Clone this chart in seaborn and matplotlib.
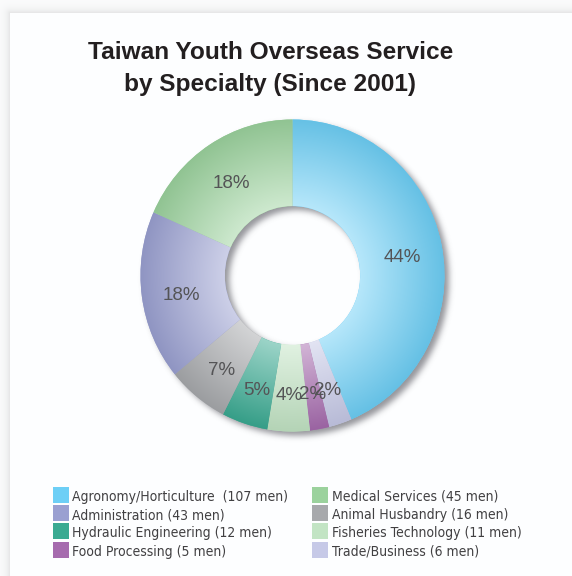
import numpy as np
import matplotlib
matplotlib.use("Agg")
import matplotlib.pyplot as plt
import seaborn as sns
from matplotlib.patches import Rectangle
from matplotlib.colors import to_rgb
from matplotlib.transforms import ScaledTranslation
from matplotlib.font_manager import FontProperties, fontManager

# ---- data (clockwise from 12 o'clock) ----
categories = [
    "Agronomy/Horticulture", "Trade/Business", "Food Processing",
    "Fisheries Technology", "Hydraulic Engineering", "Animal Husbandry",
    "Administration", "Medical Services",
]
men = [107, 6, 5, 11, 12, 16, 43, 45]
colors = ["#6dcff6", "#c6c9e7", "#a66bae", "#c2e4c4",
          "#3aaa92", "#a7a9ac", "#9aa0d1", "#9bd29d"]
legend_labels = {
    "Agronomy/Horticulture": "Agronomy/Horticulture  (107 men)",
    "Administration": "Administration (43 men)",
    "Hydraulic Engineering": "Hydraulic Engineering (12 men)",
    "Food Processing": "Food Processing (5 men)",
    "Medical Services": "Medical Services (45 men)",
    "Animal Husbandry": "Animal Husbandry (16 men)",
    "Fisheries Technology": "Fisheries Technology (11 men)",
    "Trade/Business": "Trade/Business (6 men)",
}
legend_columns = [
    ["Agronomy/Horticulture", "Administration", "Hydraulic Engineering", "Food Processing"],
    ["Medical Services", "Animal Husbandry", "Fisheries Technology", "Trade/Business"],
]
title_lines = ["Taiwan Youth Overseas Service", "by Specialty (Since 2001)"]

sns.set_theme(style="white")
plt.rcParams["font.family"] = ["Liberation Sans", "DejaVu Sans"]


def pick_narrow_font():
    """Find a condensed/narrow sans face for the legend, else fall back."""
    cands = []
    for f in fontManager.ttflist:
        nm = f.name.lower()
        fn = f.fname.lower()
        narrowish = ("narrow" in nm or "condensed" in nm or "narrow" in fn
                     or "condensed" in fn or f.stretch in ("condensed", "semi-condensed"))
        if not narrowish or f.style != "normal":
            continue
        w = f.weight if isinstance(f.weight, int) else 400
        if w > 500 or w < 300:
            continue
        rank = 0 if "liberation" in nm else (1 if "dejavu" in nm else 2)
        if "semi" in fn or "semi" in nm:
            rank += 0.5
        cands.append((rank, f.fname, "liberation" in nm))
    if cands:
        cands.sort()
        size = 11 if cands[0][2] else 10
        return FontProperties(fname=cands[0][1], size=size)
    return FontProperties(family="Liberation Sans", size=10)


legend_font = pick_narrow_font()

W, H = 572, 576
fig = plt.figure(figsize=(W / 100, H / 100), dpi=100)

# ---- page background with a soft card edge ----
bg = fig.add_axes([0, 0, 1, 1])
bg.set_axis_off()
yy, xx = np.mgrid[0:H, 0:W] + 0.5
card_x, card_y = 10, 13
dist = np.hypot(np.maximum(card_x - xx, 0), np.maximum(card_y - yy, 0))
outside = (xx < card_x) | (yy < card_y)
shade = np.where(outside, 0.99 - 0.09 * np.exp(-dist / 4.0), 1.0)
bg_img = np.dstack([shade * 0.995, shade * 0.997, shade])
bg.imshow(np.clip(bg_img, 0, 1), extent=[0, W, H, 0], aspect="auto", interpolation="bilinear")
bg.set_xlim(0, W)
bg.set_ylim(H, 0)

# title
bg.text(270.5, 59, title_lines[0], ha="center", va="baseline", fontsize=17.6,
        fontweight="bold", color="#231f20")
bg.text(270.5, 91, title_lines[1], ha="center", va="baseline", fontsize=17.6,
        fontweight="bold", color="#231f20")

# legend (two columns)
color_of = dict(zip(categories, colors))
col_x = [53, 312]
for c, col in enumerate(legend_columns):
    for r, name in enumerate(col):
        y0 = 487 + r * 18.2
        bg.add_patch(Rectangle((col_x[c], y0), 15.5, 16, facecolor=color_of[name],
                               edgecolor="none"))
        bg.text(col_x[c] + 19.5, y0 + 14, legend_labels[name], ha="left", va="baseline",
                fontproperties=legend_font, color="#414042")

# ---- donut ----
cx, cy, rx, ry = 292.5, 275.5, 152, 156
L = 1.12
INNER = 0.445
ax = fig.add_axes([(cx - L * rx) / W, 1 - (cy + L * ry) / H, 2 * L * rx / W, 2 * L * ry / H])
wedges, texts, autotexts = ax.pie(
    men, colors=colors, startangle=90, counterclock=False, radius=1,
    wedgeprops=dict(width=1 - INNER, linewidth=0),
    autopct="%.0f%%", pctdistance=0.74,
    textprops=dict(fontsize=13.5, color="#545456", family="Liberation Sans"),
)
nudge = ScaledTranslation(0, -5 / 100, fig.dpi_scale_trans)
for t in autotexts:
    t.set_zorder(4)
    t.set_transform(ax.transData + nudge)

n = 700
g = np.linspace(-L, L, n)
X, Y = np.meshgrid(g, g)
R = np.hypot(X, Y)


def blur(a, sx, sy):
    def kern(s):
        k = np.arange(-int(3 * s) - 1, int(3 * s) + 2)
        k = np.exp(-0.5 * (k / s) ** 2)
        return k / k.sum()
    kx, ky = kern(sx), kern(sy)
    a = np.apply_along_axis(lambda m: np.convolve(m, kx, mode="same"), 1, a)
    a = np.apply_along_axis(lambda m: np.convolve(m, ky, mode="same"), 0, a)
    return a


# drop shadow of the ring, cast toward lower right
off_px, sig_px = 4.5, 3.0
ox, oy = off_px / rx, -off_px / ry
Rs = np.hypot(X - ox, Y - oy)
ring = ((Rs <= 1) & (Rs >= INNER)).astype(float)
px_per_col = 2 * L * rx / n
px_per_row = 2 * L * ry / n
soft = blur(ring, sig_px / px_per_col, sig_px / px_per_row)
shadow = np.zeros((n, n, 4))
shadow[..., 0] = 0.34
shadow[..., 1] = 0.34
shadow[..., 2] = 0.37
shadow[..., 3] = np.clip(soft * 0.62, 0, 1)
ax.imshow(shadow, extent=(-L, L, -L, L), origin="lower", zorder=0.5, interpolation="bilinear")

# radial shading inside each wedge: pale at the hole, full colour at the rim
t = np.clip((R - INNER) / (1 - INNER), 0, 1)[..., None]
for w, col in zip(wedges, colors):
    base = np.array(to_rgb(col))
    inner = base * 0.5 + 0.5
    outer = base * 0.93
    img = inner * (1 - t) + outer * t
    im = ax.imshow(img, extent=(-L, L, -L, L), origin="lower", zorder=1.5,
                   interpolation="bilinear")
    im.set_clip_path(w)

ax.set_xlim(-L, L)
ax.set_ylim(-L, L)
ax.set_aspect("auto")
ax.axis("off")

fig.savefig("out.png", dpi=100)
